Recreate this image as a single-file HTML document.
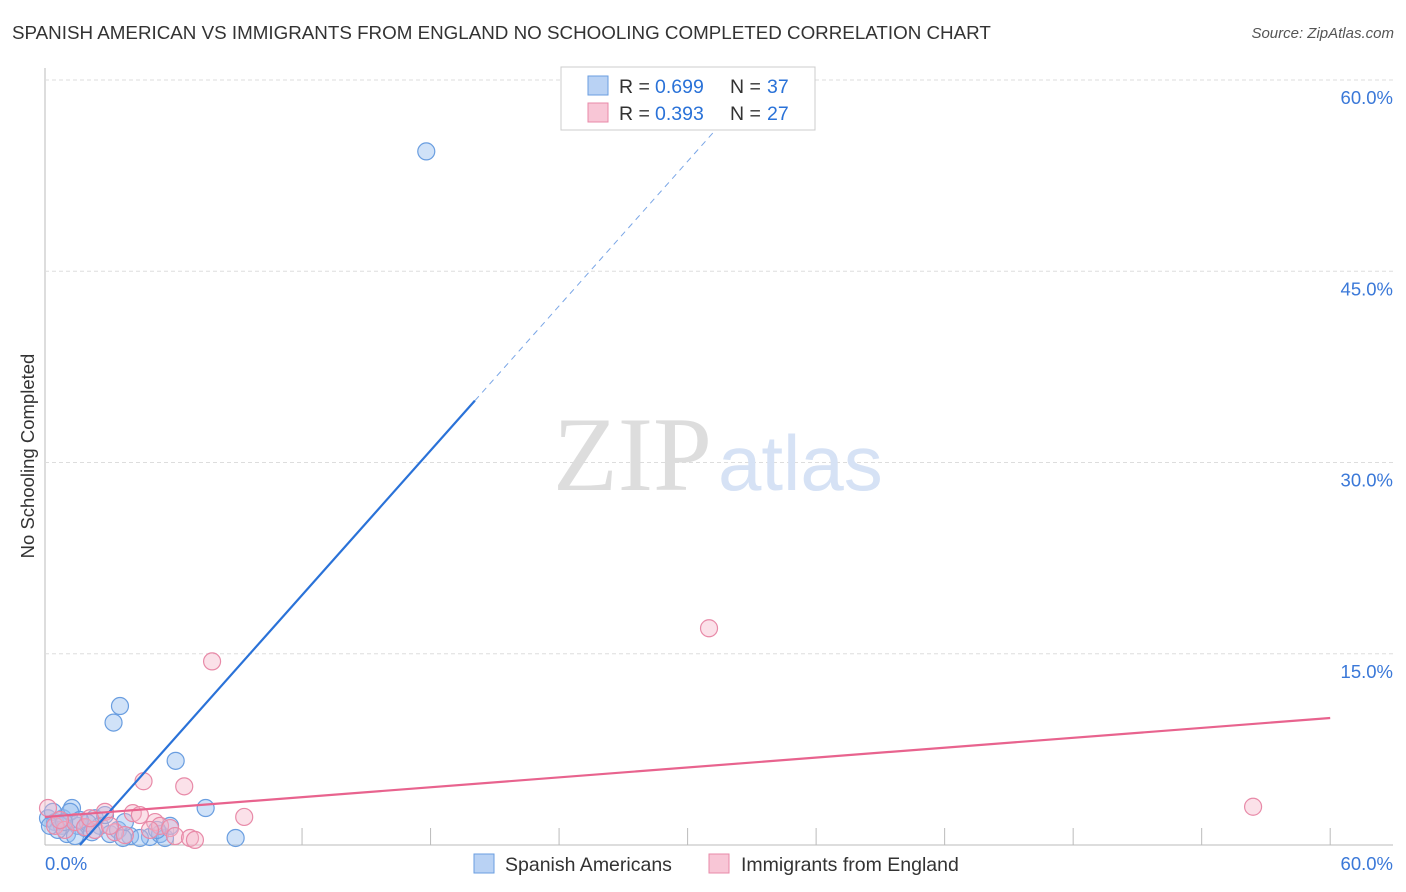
<!DOCTYPE html>
<html><head><meta charset="utf-8"><style>
body{margin:0;background:#fff;font-family:"Liberation Sans",sans-serif;}
#c{position:relative;width:1406px;height:892px;overflow:hidden;}
</style></head><body>
<div id="c">
<div style="position:absolute;left:12px;top:22px;font-size:18.8px;color:#333;">SPANISH AMERICAN VS IMMIGRANTS FROM ENGLAND NO SCHOOLING COMPLETED CORRELATION CHART</div>
<div style="position:absolute;right:12px;top:25px;font-size:15px;color:#555;font-style:italic;">Source: ZipAtlas.com</div>
<svg id="s" width="1406" height="892" style="position:absolute;left:0;top:0"></svg>
</div>
<script>
const xTicks=[0,6,12,18,24,30,36,42,48,54,60];
const yTicks=[15,30,45,60];
const blueX=[17.8,3.5,3.2,6.1,7.5,8.9,0.14,0.47,0.79,1.03,1.54,1.87,2.33,2.57,3.03,3.41,3.97,4.9,5.37,5.6,5.84,0.84,2.0,2.8,0.6,1.4,0.37,2.19,3.64,5.23,4.43,0.23,1.26,1.17,1.63,0.89,3.73];
const blueY=[54.4,10.9,9.6,6.6,2.9,0.55,2.1,1.8,1.5,0.86,1.5,1.33,2.1,1.5,0.86,1.18,0.7,0.63,0.86,0.55,1.5,2.1,1.73,2.35,1.18,0.7,2.6,1.0,0.55,1.18,0.55,1.5,2.9,2.6,1.96,1.8,1.8];
const pinkX=[31.0,7.8,4.6,6.5,56.4,9.3,4.1,4.43,2.8,0.14,0.47,0.93,1.4,1.87,2.33,3.27,3.73,5.14,5.37,5.84,6.07,6.77,7.0,0.7,2.1,3.03,4.9];
const pinkY=[17.0,14.4,5.0,4.6,3.0,2.2,2.5,2.35,2.6,2.9,1.5,1.18,1.8,1.4,1.18,1.0,0.78,1.8,1.5,1.33,0.7,0.55,0.4,1.96,2.1,1.5,1.18];
const blueLine={x0:1.63,slope:1.89,solidEnd:20.07,dashEnd:31.6};
const pinkLine={y0:2.2,y1:9.96,x1:60};
const X=v=>45+v*21.42, Y=v=>845-v*12.75;
const s=document.getElementById('s');const NS='http://www.w3.org/2000/svg';
function mk(t,a,p){const e=document.createElementNS(NS,t);for(const k in a)e.setAttribute(k,a[k]);(p||s).appendChild(e);return e;}
let e;
e=mk('line',{x1:45,y1:68,x2:45,y2:845,stroke:'#bbb'});


e=mk('line',{x1:45,y1:845,x2:1393,y2:845,stroke:'#bbb'});


yTicks.forEach(v=>{
 e=mk('line',{x1:45,y1:Y(v),x2:1393,y2:Y(v),stroke:'#ddd','stroke-dasharray':'4,3'});
 
 
 e=mk('text',{x:1393,y:Y(v)+24,'text-anchor':'end','font-size':18.5,fill:'#3a78d8'});e.textContent=v.toFixed(1)+'%';
 
 
});
xTicks.forEach((v,i)=>{if(i==0)return;
 e=mk('line',{x1:X(v),y1:828,x2:X(v),y2:845,stroke:'#bbb'});
 
 
});
e=mk('text',{x:45,y:870,'font-size':18.5,fill:'#3a78d8'});e.textContent='0.0%';


e=mk('text',{x:1393,y:870,'text-anchor':'end','font-size':18.5,fill:'#3a78d8'});e.textContent='60.0%';


e=mk('text',{x:34,y:456,'text-anchor':'middle','font-size':18.5,fill:'#333',transform:'rotate(-90 34 456)'});e.textContent='No Schooling Completed';


e=mk('text',{x:553,y:490,'font-size':106,fill:'#ddd','font-family':'Liberation Serif,serif'});e.textContent='ZIP';


e=mk('text',{x:718,y:490,'font-size':78,fill:'#d6e2f5'});e.textContent='atlas';


blueX.forEach((v,i)=>{
 e=mk('circle',{cx:X(v),cy:Y(blueY[i]),r:8.5,fill:'rgba(150,190,240,0.45)',stroke:'#6a9ee0','stroke-width':1.2});
 
 
});
pinkX.forEach((v,i)=>{
 e=mk('circle',{cx:X(v),cy:Y(pinkY[i]),r:8.5,fill:'rgba(245,180,200,0.4)',stroke:'#e88aa8','stroke-width':1.2});
 
 
});
const by=x=>(x-blueLine.x0)*blueLine.slope;
e=mk('line',{x1:X(blueLine.x0),y1:Y(0),x2:X(blueLine.solidEnd),y2:Y(by(blueLine.solidEnd)),stroke:'#2a72d8','stroke-width':2.2});


e=mk('line',{x1:X(blueLine.solidEnd),y1:Y(by(blueLine.solidEnd)),x2:X(blueLine.dashEnd),y2:Y(by(blueLine.dashEnd)),stroke:'#7aa6e6','stroke-width':1,'stroke-dasharray':'6,5'});


e=mk('line',{x1:X(0),y1:Y(pinkLine.y0),x2:X(pinkLine.x1),y2:Y(pinkLine.y1),stroke:'#e8638e','stroke-width':2.2});


const g=mk('g',{});


mk('rect',{x:561,y:67,width:254,height:63,fill:'#fff',stroke:'#ccc'},g);
mk('rect',{x:588,y:76,width:20,height:19,fill:'#b9d2f4',stroke:'#6a9ee0'},g);
mk('rect',{x:588,y:103,width:20,height:19,fill:'#f8c6d6',stroke:'#e88aa8'},g);
[[0.699,37,93],[0.393,27,120]].forEach(r=>{
 let t=mk('text',{x:619,y:r[2],'font-size':19.5,fill:'#333'},g);t.textContent='R =';
 t=mk('text',{x:655,y:r[2],'font-size':19.5,fill:'#2a72d8'},g);t.textContent=r[0].toFixed(3);
 t=mk('text',{x:730,y:r[2],'font-size':19.5,fill:'#333'},g);t.textContent='N =';
 t=mk('text',{x:767,y:r[2],'font-size':19.5,fill:'#2a72d8'},g);t.textContent=r[1];
});
const bl=mk('g',{});


mk('rect',{x:474,y:854,width:20,height:19,fill:'#b9d2f4',stroke:'#6a9ee0'},bl);
e=mk('text',{x:505,y:871,'font-size':19.5,fill:'#333'},bl);e.textContent='Spanish Americans';
mk('rect',{x:709,y:854,width:20,height:19,fill:'#f8c6d6',stroke:'#e88aa8'},bl);
e=mk('text',{x:741,y:871,'font-size':19.5,fill:'#333'},bl);e.textContent='Immigrants from England';
</script>
</body></html>
